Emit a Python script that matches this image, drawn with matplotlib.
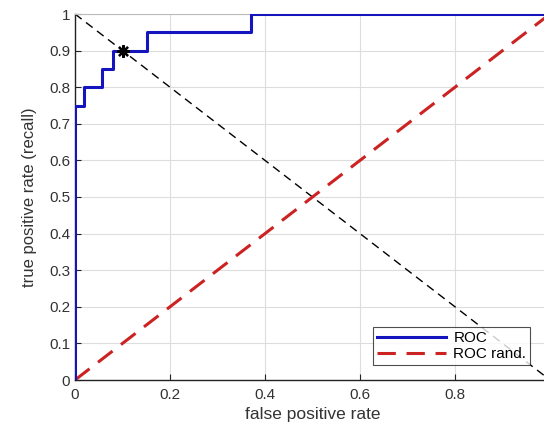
import matplotlib
matplotlib.use("Agg")
import matplotlib.pyplot as plt

fpr = [0.0, 0.0, 0.018, 0.018, 0.056, 0.056, 0.081, 0.081, 0.152, 0.152, 0.37, 0.37, 1.0]
tpr = [0.0, 0.75, 0.75, 0.80, 0.80, 0.85, 0.85, 0.90, 0.90, 0.95, 0.95, 1.0, 1.0]
rand_x = [0.0, 1.0]
rand_y = [0.0, 1.0]
diag_x = [0.0, 1.0]
diag_y = [1.0, 0.0]
opt_point = (0.1, 0.9)
xticks = [0, 0.2, 0.4, 0.6, 0.8, 1]
yticks = [0, 0.1, 0.2, 0.3, 0.4, 0.5, 0.6, 0.7, 0.8, 0.9, 1]

plt.rcParams['font.family'] = ['Liberation Sans', 'DejaVu Sans']

fig = plt.figure(figsize=(5.44, 4.33), dpi=100)
ax = fig.add_axes([75/544, 53/433, 475/544, 366/433])

ax.plot(diag_x, diag_y, color='black', lw=1.0, ls=(0, (6, 4)), zorder=2)
l1, = ax.plot(fpr, tpr, color='#1515c0', lw=2.2, label='ROC', zorder=4)
l2, = ax.plot(rand_x, rand_y, color='#cc2222', lw=2.2, ls=(0, (6, 3.5)), label='ROC rand.', zorder=3)
ax.plot([opt_point[0]], [opt_point[1]], marker=(8, 2, 0), color='black', ms=9, mew=1.6, zorder=5)

ax.set_xlim(0, 1)
ax.set_ylim(0, 1)
ax.set_xticks(xticks)
ax.set_yticks(yticks)
ax.set_xticklabels(['0', '0.2', '0.4', '0.6', '0.8', '1'])
ax.set_yticklabels(['0', '0.1', '0.2', '0.3', '0.4', '0.5', '0.6', '0.7', '0.8', '0.9', '1'])
ax.grid(True, color='#dddddd', lw=0.8)
ax.set_axisbelow(True)
ax.tick_params(direction='in', length=4, labelsize=11, colors='#222222', labelcolor='#333333')
ax.tick_params(axis='x', pad=6)
for s in ['left', 'bottom']:
    ax.spines[s].set_color('#222222')
    ax.spines[s].set_linewidth(1.0)
for s in ['top', 'right']:
    ax.spines[s].set_color('#bbbbbb')
    ax.spines[s].set_linewidth(0.8)

ax.set_xlabel('false positive rate', fontsize=12.5, color='#333333', labelpad=3)
ax.set_ylabel('true positive rate (recall)', fontsize=12, color='#333333', labelpad=9)

leg = ax.legend(handles=[l1, l2], loc='lower right', bbox_to_anchor=(0.958, 0.041),
                fontsize=11, frameon=True, fancybox=False, edgecolor='#222222',
                handlelength=4.5, borderpad=0.25, labelspacing=0.15, handletextpad=0.5,
                borderaxespad=0)
leg.get_frame().set_linewidth(0.8)

fig.savefig('out.png', dpi=100)
